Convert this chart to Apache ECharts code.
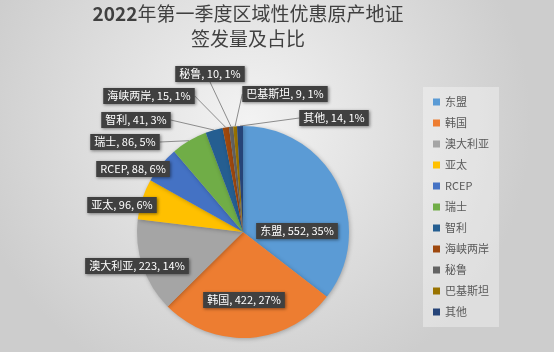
<!DOCTYPE html>
<html>
<head>
<meta charset="utf-8">
<script src="https://cdn.jsdelivr.net/npm/echarts@6/dist/echarts.min.js"></script>
<style>
  html, body { margin: 0; padding: 0; }
  #main { width: 554px; height: 352px; }
</style>
</head>
<body>
<div id="main"></div>
<script>
// data
const regions = ['东盟', '韩国', '澳大利亚', '亚太', 'RCEP', '瑞士', '智利', '海峡两岸', '秘鲁', '巴基斯坦', '其他'];
const counts = [552, 422, 223, 96, 88, 86, 41, 15, 10, 9, 14];
const titleYear = '2022';
const titleRest = '年第一季度区域性优惠原产地证';
const titleLine2 = '签发量及占比';

// excel office palette
const colors = ['#5B9BD5', '#ED7D31', '#A5A5A5', '#FFC000', '#4472C4', '#70AD47',
                '#255E91', '#9E480E', '#636363', '#997300', '#264478'];

// where excel put each data label (box centre, px) and which ones got a leader line
const labelPos = [[297, 231], [244, 300], [137, 266], [122, 205], [133, 169], [125, 142],
                  [136, 120], [149, 96], [210, 74], [285, 94], [334, 118]];
const withLine = [false, false, false, false, false, true, true, true, true, true, true];

const cjk = '"Noto Sans CJK SC", "Noto Sans", sans-serif';

let myChart = echarts.init(document.getElementById('main'));

myChart.setOption({
    backgroundColor: {
        type: 'radial', x: 0.45, y: 0.35, r: 0.8,
        colorStops: [{ offset: 0, color: '#f3f3f3' }, { offset: 1, color: '#cdcdcd' }]
    },
    color: colors,
    title: {
        text: '{y|' + titleYear + '}{t|' + titleRest + '}\n{t|' + titleLine2 + '}',
        left: 248,
        top: 1,
        padding: 0,
        textAlign: 'center',
        textStyle: {
            fontFamily: cjk,
            fontSize: 19,
            lineHeight: 25,
            color: '#404040',
            rich: {
                y: { fontFamily: cjk, fontSize: 19, lineHeight: 25, fontWeight: 'bold', color: '#404040' },
                t: { fontFamily: cjk, fontSize: 19, lineHeight: 25, fontWeight: 'normal', color: '#404040' }
            }
        }
    },
    legend: {
        orient: 'vertical',
        left: 423,
        top: 87,
        padding: [8, 10, 8, 10],
        backgroundColor: 'rgba(255,255,255,0.35)',
        icon: 'rect',
        itemWidth: 7,
        itemHeight: 7,
        itemGap: 7,
        data: regions,
        textStyle: {
            fontFamily: cjk,
            fontSize: 11,
            lineHeight: 14,
            color: '#595959'
        }
    },
    series: [{
        type: 'pie',
        center: [243, 232],
        radius: 106,
        startAngle: 90,
        clockwise: true,
        percentPrecision: 0,
        animation: false,
        itemStyle: {
            shadowBlur: 4,
            shadowColor: 'rgba(0,0,0,0.25)',
            shadowOffsetX: 1,
            shadowOffsetY: 1
        },
        label: {
            show: true,
            position: 'outside',
            formatter: '{b}, {c}, {d}%',
            fontFamily: cjk,
            fontSize: 11,
            lineHeight: 12,
            color: '#ffffff',
            backgroundColor: '#404040',
            padding: [2, 4],
            shadowColor: 'rgba(0,0,0,0.45)',
            shadowBlur: 3,
            shadowOffsetX: 1,
            shadowOffsetY: 1
        },
        labelLine: {
            show: true,
            length: 10,
            length2: 0,
            lineStyle: { color: '#8c8c8c', width: 1 }
        },
        labelLayout: function (params) {
            const p = labelPos[params.dataIndex];
            return { x: p[0], y: p[1], align: 'center', verticalAlign: 'middle' };
        },
        data: regions.map((name, i) => ({
            name: name,
            value: counts[i],
            labelLine: { show: withLine[i] }
        }))
    }]
});
</script>
</body>
</html>
